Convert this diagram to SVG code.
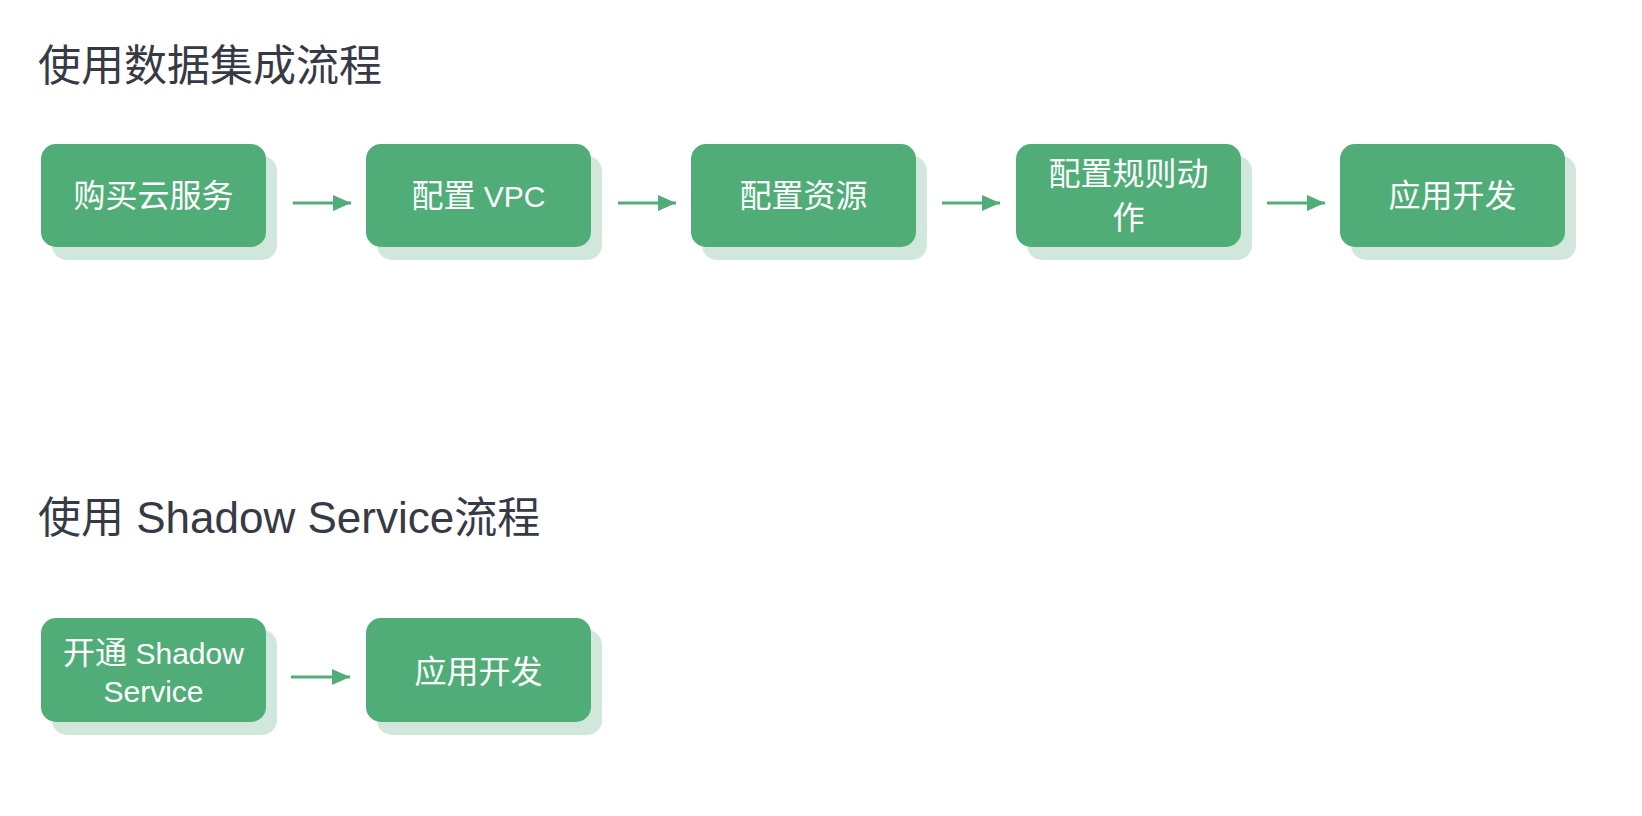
<svg xmlns="http://www.w3.org/2000/svg" width="1642" height="816" viewBox="0 0 1642 816">
  <style>
    .title { font-family: "Noto Sans CJK SC", "Liberation Sans", sans-serif; font-size: 43px; fill: #363a44; }
    .title .lat { font-family: "Liberation Sans", "Noto Sans CJK SC", sans-serif; font-size: 44px; }
    .box { fill: #51ad78; }
    .shadow { fill: #d1e7dc; }
    .label { font-family: "Noto Sans CJK SC", "Liberation Sans", sans-serif; font-size: 32px; fill: #ffffff; text-anchor: middle; }
    .label .lat { font-family: "Liberation Sans", "Noto Sans CJK SC", sans-serif; font-size: 30px; }
    .edge { stroke: #51ad78; stroke-width: 3; fill: none; marker-end: url(#arrow); }
  </style>
  <defs>
    <marker id="arrow" viewBox="0 0 18 16" refX="18" refY="8" markerWidth="18" markerHeight="16" markerUnits="userSpaceOnUse" orient="auto">
      <path d="M0,0 L18,8 L0,16 Z" fill="#51ad78"/>
    </marker>
  </defs>
  <rect width="1642" height="816" fill="#ffffff"/>

  <!-- section headings -->
  <text class="title" x="38" y="81">使用数据集成流程</text>
  <text class="title" x="38" y="533">使用<tspan class="lat"> Shadow Service</tspan>流程</text>

  <!-- first flow -->
  <g id="buy-cloud-service">
    <rect class="shadow" x="52" y="156" width="225" height="104" rx="15"/>
    <rect class="box" x="41" y="144" width="225" height="103" rx="15"/>
    <text class="label" x="153.5" y="207">购买云服务</text>
  </g>
  <g id="configure-vpc">
    <rect class="shadow" x="377" y="156" width="225" height="104" rx="15"/>
    <rect class="box" x="366" y="144" width="225" height="103" rx="15"/>
    <text class="label" x="478.5" y="207">配置<tspan class="lat"> VPC</tspan></text>
  </g>
  <g id="configure-resources">
    <rect class="shadow" x="702" y="156" width="225" height="104" rx="15"/>
    <rect class="box" x="691" y="144" width="225" height="103" rx="15"/>
    <text class="label" x="803.5" y="207">配置资源</text>
  </g>
  <g id="configure-rule-actions">
    <rect class="shadow" x="1027" y="156" width="225" height="104" rx="15"/>
    <rect class="box" x="1016" y="144" width="225" height="103" rx="15"/>
    <text class="label" x="1128.5" y="185">配置规则动</text>
    <text class="label" x="1128.5" y="229">作</text>
  </g>
  <g id="app-development-1">
    <rect class="shadow" x="1351" y="156" width="225" height="104" rx="15"/>
    <rect class="box" x="1340" y="144" width="225" height="103" rx="15"/>
    <text class="label" x="1452.5" y="207">应用开发</text>
  </g>

  <!-- second flow -->
  <g id="enable-shadow-service">
    <rect class="shadow" x="52" y="630" width="225" height="105" rx="15"/>
    <rect class="box" x="41" y="618" width="225" height="104" rx="15"/>
    <text class="label" x="153.5" y="664">开通<tspan class="lat"> Shadow</tspan></text>
    <text class="label" x="153.5" y="702"><tspan class="lat">Service</tspan></text>
  </g>
  <g id="app-development-2">
    <rect class="shadow" x="377" y="630" width="225" height="105" rx="15"/>
    <rect class="box" x="366" y="618" width="225" height="104" rx="15"/>
    <text class="label" x="478.5" y="683">应用开发</text>
  </g>

  <!-- connectors -->
  <g id="connectors">
    <line class="edge" x1="293" y1="203" x2="351" y2="203"/>
    <line class="edge" x1="618" y1="203" x2="676" y2="203"/>
    <line class="edge" x1="942" y1="203" x2="1000" y2="203"/>
    <line class="edge" x1="1267" y1="203" x2="1325" y2="203"/>
    <line class="edge" x1="291" y1="677" x2="350" y2="677"/>
  </g>
</svg>
